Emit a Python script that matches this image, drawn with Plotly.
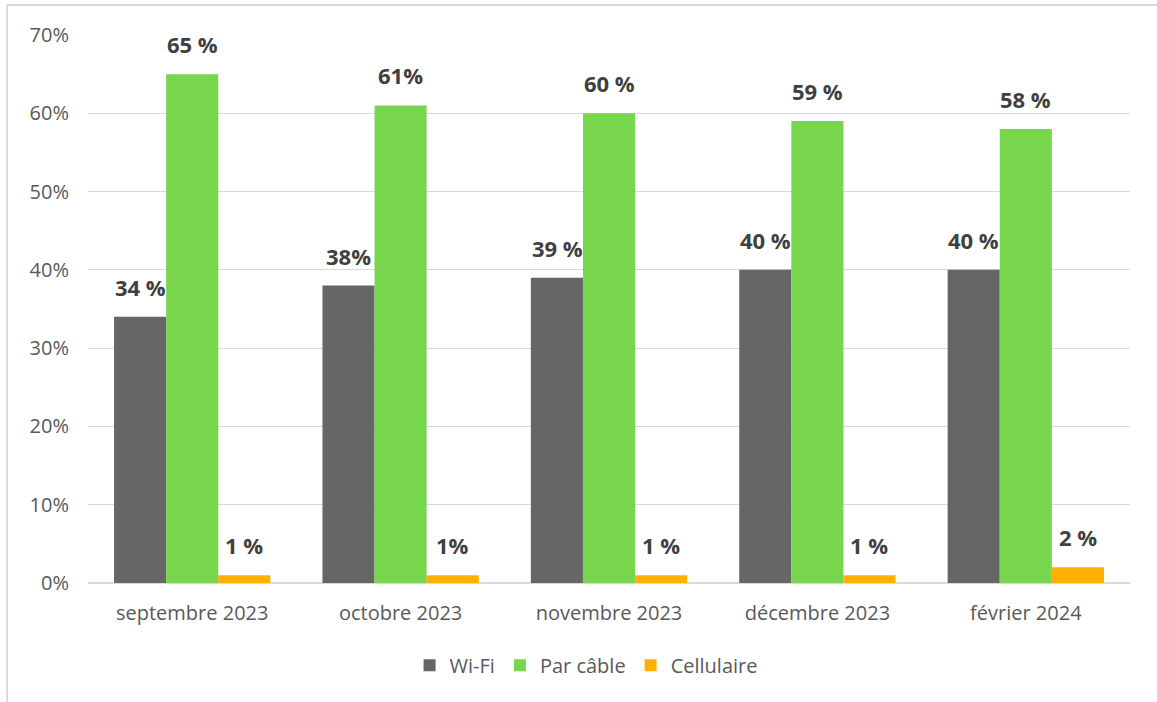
import plotly.graph_objects as go

months = ["septembre 2023", "octobre 2023", "novembre 2023", "décembre 2023", "février 2024"]
wifi = [0.34, 0.38, 0.39, 0.40, 0.40]
cable = [0.65, 0.61, 0.60, 0.59, 0.58]
cell = [0.01, 0.01, 0.01, 0.01, 0.02]
wifi_lbl = ["34 %", "38%", "39 %", "40 %", "40 %"]
cable_lbl = ["65 %", "61%", "60 %", "59 %", "58 %"]
cell_lbl = ["1 %", "1%", "1 %", "1 %", "2 %"]
y_ticks = [0, 0.1, 0.2, 0.3, 0.4, 0.5, 0.6, 0.7]

FONT = "Open Sans"
series = [
    ("Wi-Fi", wifi, wifi_lbl, "#666666"),
    ("Par câble", cable, cable_lbl, "#77D64C"),
    ("Cellulaire", cell, cell_lbl, "#FFB000"),
]

fig = go.Figure()
for name, vals, lbls, color in series:
    fig.add_trace(go.Bar(x=months, y=vals, name=name, marker_color=color, marker_line_width=0))

# value labels above each bar (bar width ~52px, groups centred on category)
bar_w = 52
for i, (name, vals, lbls, color) in enumerate(series):
    for m, v, t in zip(months, vals, lbls):
        fig.add_annotation(x=m, y=v, text=f"<b>{t}</b>", showarrow=False,
                           xshift=(i - 1) * bar_w, yanchor="bottom", yshift=13,
                           font=dict(family=FONT, size=22, color="#404040"))

fig.update_layout(
    width=1157, height=702, template="plotly_white",
    paper_bgcolor="white", plot_bgcolor="white",
    margin=dict(l=88, r=27, t=35, b=119),
    barmode="group", bargap=0.25, bargroupgap=0,
    font=dict(family=FONT, size=20, color="#595959"),
    legend=dict(orientation="h", x=0.478, xanchor="center", y=-0.15, yanchor="middle",
                font=dict(size=20, color="#595959"), itemwidth=30),
    xaxis=dict(showgrid=False, showline=False, ticks="", tickfont=dict(size=20),
               ticklabelstandoff=16),
    yaxis=dict(range=[0, 0.7], tickvals=y_ticks, tickformat=".0%", showgrid=True,
               gridcolor="#d9d9d9", gridwidth=1, zeroline=True, zerolinecolor="#d9d9d9",
               ticks="", tickfont=dict(size=20), showline=False, ticklabelstandoff=18),
)
# outer chart frame (left and top edges visible)
fig.add_shape(type="line", xref="paper", yref="paper", x0=-0.0777, x1=-0.0777, y0=-0.25, y1=1.0547,
              line=dict(color="#d9d9d9", width=2))
fig.add_shape(type="line", xref="paper", yref="paper", x0=-0.0777, x1=1.03, y0=1.0547, y1=1.0547,
              line=dict(color="#d9d9d9", width=2))

fig.write_html("out.html", config={"displayModeBar": False},
               post_script="document.body.style.margin='0';")
